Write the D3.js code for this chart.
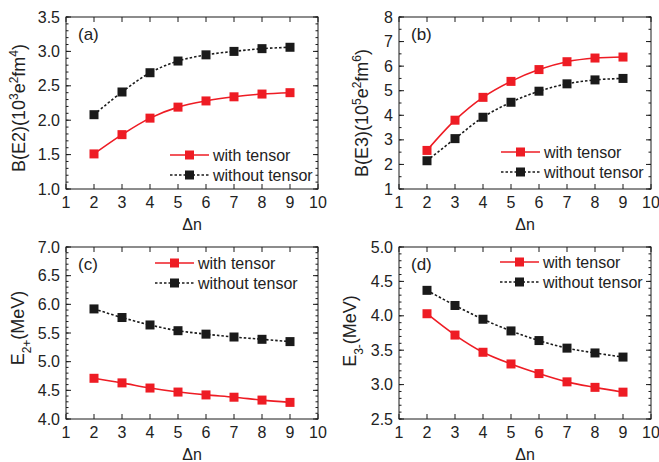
<!DOCTYPE html>
<html>
<head>
<meta charset="utf-8">
<script src="https://cdn.jsdelivr.net/npm/d3@7"></script>
<style>
  body { margin: 0; background: #fff; }
  text { font-family: "Liberation Sans", Arial, sans-serif; fill: #222; }
</style>
</head>
<body>
<div id="chart"></div>
<script>
// data
var dn = [2, 3, 4, 5, 6, 7, 8, 9]
var be2With = [1.51, 1.79, 2.03, 2.19, 2.28, 2.34, 2.38, 2.40]
var be2Without = [2.08, 2.41, 2.69, 2.86, 2.95, 3.00, 3.04, 3.06]
var be3With = [2.57, 3.80, 4.73, 5.38, 5.86, 6.18, 6.33, 6.37]
var be3Without = [2.15, 3.05, 3.92, 4.53, 4.98, 5.28, 5.44, 5.50]
var e2With = [4.71, 4.63, 4.54, 4.47, 4.42, 4.38, 4.33, 4.29]
var e2Without = [5.92, 5.77, 5.64, 5.54, 5.48, 5.43, 5.39, 5.35]
var e3With = [4.03, 3.72, 3.47, 3.30, 3.16, 3.04, 2.96, 2.89]
var e3Without = [4.37, 4.15, 3.95, 3.78, 3.64, 3.53, 3.46, 3.40]
var xTicks = [1, 2, 3, 4, 5, 6, 7, 8, 9, 10]
var legendNames = ["with tensor", "without tensor"]

var width = 659,
    height = 462

var svg = d3.select("#chart")
  .append("svg")
    .attr("width", width)
    .attr("height", height)

var red = "#ee1c24",
    black = "#1a1a1a"

function panel(opt) {
  var x = d3.scaleLinear().domain([1, 10]).range([opt.left, opt.left + 252])
  var y = d3.scaleLinear().domain(opt.ydom).range([opt.top + 172, opt.top])
  var g = svg.append("g")

  // frame
  g.append("rect")
    .attr("x", x(1)).attr("y", y.range()[1])
    .attr("width", 252).attr("height", 172)
    .attr("fill", "none").attr("stroke", black).attr("stroke-width", 1)

  // ticks (inward, mirrored)
  var yMajor = d3.range(opt.ydom[0], opt.ydom[1] + 1e-9, opt.ystep)
  var yMinor = d3.range(opt.ydom[0], opt.ydom[1] + 1e-9, opt.yminor)
  var bottom = y.range()[0], top = y.range()[1]
  var right = x(10), left = x(1)

  yMinor.forEach(function(v) {
    g.append("line").attr("x1", left).attr("x2", left + 2.5).attr("y1", y(v)).attr("y2", y(v)).attr("stroke", black)
    g.append("line").attr("x1", right).attr("x2", right - 2.5).attr("y1", y(v)).attr("y2", y(v)).attr("stroke", black)
  })
  yMajor.forEach(function(v) {
    g.append("line").attr("x1", left).attr("x2", left + 5).attr("y1", y(v)).attr("y2", y(v)).attr("stroke", black)
    g.append("line").attr("x1", right).attr("x2", right - 5).attr("y1", y(v)).attr("y2", y(v)).attr("stroke", black)
    g.append("text")
      .attr("x", left - 6).attr("y", y(v) + 5.5)
      .attr("text-anchor", "end")
      .style("font-size", "16px")
      .text(d3.format(opt.fmt)(v))
  })
  xTicks.forEach(function(v) {
    g.append("line").attr("x1", x(v)).attr("x2", x(v)).attr("y1", bottom).attr("y2", bottom - 5).attr("stroke", black)
    g.append("line").attr("x1", x(v)).attr("x2", x(v)).attr("y1", top).attr("y2", top + 5).attr("stroke", black)
    g.append("text")
      .attr("x", x(v)).attr("y", bottom + 19)
      .attr("text-anchor", "middle")
      .style("font-size", "16px")
      .text(v)
  })

  // axis titles
  g.append("text")
    .attr("x", (left + right) / 2).attr("y", bottom + 41)
    .attr("text-anchor", "middle")
    .style("font-size", "16px")
    .text("\u0394n")

  var yl = g.append("text")
    .attr("transform", "translate(" + opt.ylabelX + "," + opt.ylabelY + ") rotate(-90)")
    .attr("text-anchor", "middle")
    .style("font-size", "18px")
  opt.ylabel.forEach(function(p) {
    var t = yl.append("tspan").text(p[0])
    if (p[1] == "sup") t.attr("baseline-shift", "super").style("font-size", "12px")
    if (p[1] == "sub") t.attr("baseline-shift", "sub").style("font-size", "12px")
  })

  // panel tag
  g.append("text")
    .attr("x", left + 12).attr("y", top + 23)
    .style("font-size", "17px")
    .text(opt.tag)

  var line = d3.line()
    .x(function(d, i) { return x(dn[i]) })
    .y(function(d) { return y(d) })
    .curve(d3.curveCatmullRom)

  var series = [
    { vals: opt.without, color: black, dash: "2.5,2" },
    { vals: opt.with, color: red, dash: null }
  ]
  series.forEach(function(s) {
    g.append("path")
      .datum(s.vals)
      .attr("d", line)
      .attr("fill", "none")
      .attr("stroke", s.color)
      .attr("stroke-width", 1.6)
      .attr("stroke-dasharray", s.dash)
    g.selectAll(null)
      .data(s.vals)
      .enter()
      .append("rect")
      .attr("x", function(d, i) { return x(dn[i]) - 4.5 })
      .attr("y", function(d) { return y(d) - 4.5 })
      .attr("width", 9).attr("height", 9)
      .attr("fill", s.color)
  })

  // legend
  var leg = [
    { name: legendNames[0], color: red, dash: null },
    { name: legendNames[1], color: black, dash: "2.5,2" }
  ]
  leg.forEach(function(l, i) {
    var ly = opt.legY + i * 20
    var lx = opt.legX
    g.append("line")
      .attr("x1", lx).attr("x2", lx + 39)
      .attr("y1", ly).attr("y2", ly)
      .attr("stroke", l.color).attr("stroke-width", 1.6)
      .attr("stroke-dasharray", l.dash)
    g.append("rect")
      .attr("x", lx + 19.5 - 4.5).attr("y", ly - 4.5)
      .attr("width", 9).attr("height", 9)
      .attr("fill", l.color)
    g.append("text")
      .attr("x", lx + 43).attr("y", ly + 5.5)
      .style("font-size", "16px")
      .text(l.name)
  })
}

panel({
  left: 66, top: 17, ydom: [1.0, 3.5], ystep: 0.5, yminor: 0.1, fmt: ".1f",
  with: be2With, without: be2Without, tag: "(a)", legX: 170, legY: 155,
  ylabelX: 25, ylabelY: 108,
  ylabel: [["B(E2)(10"], ["3", "sup"], ["e"], ["2", "sup"], ["fm"], ["4", "sup"], [")"]]
})
panel({
  left: 399, top: 17, ydom: [1, 8], ystep: 1, yminor: 0.5, fmt: "d",
  with: be3With, without: be3Without, tag: "(b)", legX: 501, legY: 152,
  ylabelX: 368, ylabelY: 113,
  ylabel: [["B(E3)(10"], ["5", "sup"], ["e"], ["2", "sup"], ["fm"], ["6", "sup"], [")"]]
})
panel({
  left: 66, top: 247, ydom: [4.0, 7.0], ystep: 0.5, yminor: 0.1, fmt: ".1f",
  with: e2With, without: e2Without, tag: "(c)", legX: 155, legY: 263,
  ylabelX: 24, ylabelY: 328,
  ylabel: [["E"], ["2+", "sub"], ["(MeV)"]]
})
panel({
  left: 399, top: 247, ydom: [2.5, 5.0], ystep: 0.5, yminor: 0.1, fmt: ".1f",
  with: e3With, without: e3Without, tag: "(d)", legX: 500, legY: 262,
  ylabelX: 356, ylabelY: 331,
  ylabel: [["E"], ["3-", "sub"], ["(MeV)"]]
})
</script>
</body>
</html>
